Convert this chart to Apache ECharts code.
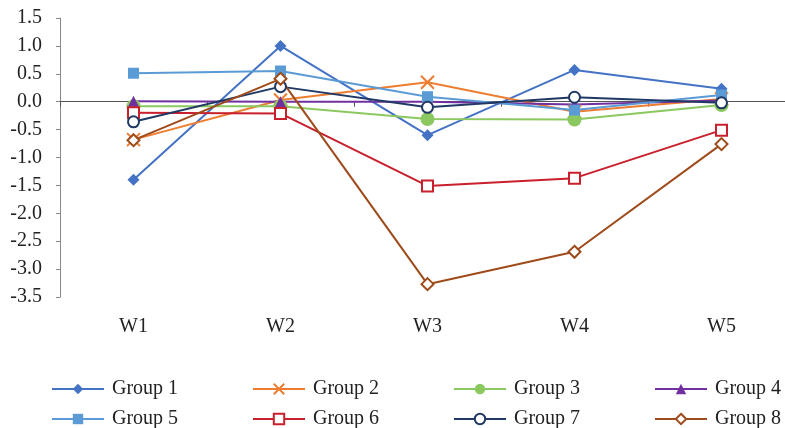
<!DOCTYPE html>
<html><head><meta charset="utf-8">
<script src="https://cdn.jsdelivr.net/npm/echarts@6/dist/echarts.min.js"></script>
<style>html,body{margin:0;padding:0;background:#fff;overflow:hidden}#c{width:800px;height:428px}</style>
</head><body><div id="c"></div>
<script>
const categories = ['W1','W2','W3','W4','W5'];
const group1 = [-1.40, 1.00, -0.60, 0.57, 0.23];
const group2 = [-0.68, 0.03, 0.35, -0.18, 0.05];
const group3 = [-0.08, -0.08, -0.31, -0.32, -0.06];
const group4 = [0.01, 0.00, 0.00, -0.05, 0.02];
const group5 = [0.51, 0.55, 0.09, -0.15, 0.12];
const group6 = [-0.20, -0.21, -1.51, -1.37, -0.51];
const group7 = [-0.36, 0.27, -0.10, 0.08, -0.02];
const group8 = [-0.69, 0.41, -3.27, -2.69, -0.76];
const names = ['Group 1','Group 2','Group 3','Group 4','Group 5','Group 6','Group 7','Group 8'];
const values = [group1, group2, group3, group4, group5, group6, group7, group8];
const colors = ['#4472C4','#ED7D31','#8BC860','#7030A0','#5B9BD5','#C8202C','#1F3864','#9E4A1A'];
const symbols = ['diamond','path://M0,0 L10,10 M10,0 L0,10','circle','triangle','rect','rect','circle','diamond'];
const sizes = [12, 13, 14, 11, 11, 11, 11, 12];
const hollow = [false,false,false,false,false,true,true,true];
const font = 'Liberation Serif';

const series = names.map((n, i) => ({
  name: n, type: 'line', data: values[i],
  symbol: symbols[i], symbolSize: sizes[i],
  showAllSymbol: true,
  lineStyle: { color: colors[i], width: 2 },
  itemStyle: i === 1
    ? { color: colors[i], borderColor: colors[i], borderWidth: 2 }
    : hollow[i] ? { color: '#fff', borderColor: colors[i], borderWidth: 2 }
    : { color: colors[i], borderColor: colors[i], borderWidth: 0 },
  emphasis: { disabled: true },
  animation: false
}));

const legends = names.map((n, i) => ({
  left: 51 + 201 * (i % 4), top: 379 + 30 * Math.floor(i / 4), padding: 0,
  itemWidth: 52, itemHeight: 13,
  textStyle: { fontFamily: font, fontSize: 20, color: '#222', lineHeight: 20, padding: [0, 0, 0, 3] },
  selectedMode: false,
  data: [n]
}));

const chart = echarts.init(document.getElementById('c'), null, { renderer: 'canvas' });
chart.setOption({
  backgroundColor: '#fff',
  animation: false,
  color: colors,
  grid: { left: 60, right: 5, top: 18, bottom: 131, containLabel: false },
  legend: legends,
  xAxis: [
    { type: 'category', data: categories, boundaryGap: true,
      axisLine: { onZero: true, lineStyle: { color: '#555', width: 1 } },
      axisTick: { show: true, length: 5, lineStyle: { color: '#555' } },
      axisLabel: { show: false }, splitLine: { show: false } },
    { type: 'category', data: categories, boundaryGap: true, position: 'bottom',
      axisLine: { show: false, onZero: false }, axisTick: { show: false },
      axisLabel: { fontFamily: font, fontSize: 20, color: '#222', margin: 20 },
      splitLine: { show: false } }
  ],
  yAxis: {
    type: 'value', min: -3.5, max: 1.5, interval: 0.5,
    axisLine: { show: true, lineStyle: { color: '#888' } },
    axisTick: { show: true, length: 4, lineStyle: { color: '#888' } },
    splitLine: { show: false },
    axisLabel: { fontFamily: font, fontSize: 20, color: '#222', margin: 18,
      formatter: v => v.toFixed(1) }
  },
  series: series
});
</script></body></html>
